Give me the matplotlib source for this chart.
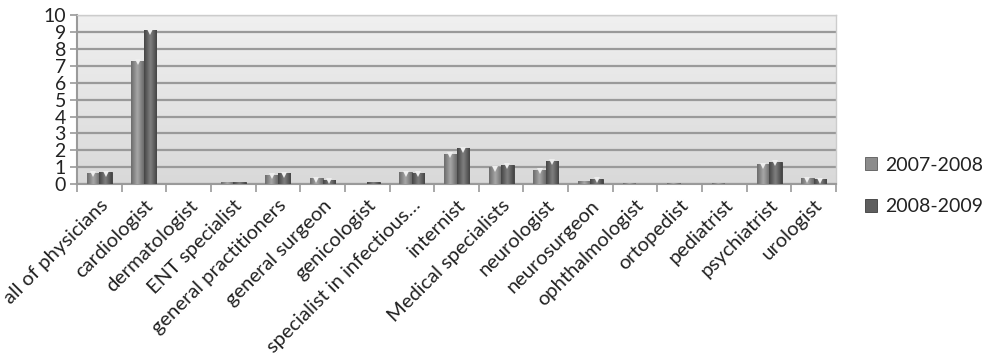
import numpy as np
from matplotlib import pyplot as plt
from matplotlib.colors import LinearSegmentedColormap

categories = ["all of physicians", "cardiologist", "dermatologist", "ENT specialist",
              "general practitioners", "general surgeon", "genicologist",
              "specialist in infectious…", "internist", "Medical specialists",
              "neurologist", "neurosurgeon", "ophthalmologist", "ortopedist",
              "pediatrist", "psychiatrist", "urologist"]
y2007 = [0.65, 7.3, 0.02, 0.10, 0.55, 0.35, 0.03, 0.70, 1.80, 1.00,
         0.85, 0.16, 0.04, 0.08, 0.08, 1.17, 0.35]
y2008 = [0.70, 9.1, 0.02, 0.12, 0.63, 0.26, 0.10, 0.67, 2.12, 1.13,
         1.37, 0.30, 0.02, 0.03, 0.02, 1.30, 0.28]
series_labels = ["2007-2008", "2008-2009"]

plt.rcParams['font.family'] = ['Lato', 'DejaVu Sans']


def shade_bars(ax, bars, dark, light):
    # horizontal gradient inside each bar, like the cylinder look of the original
    cmap = LinearSegmentedColormap.from_list("b", [dark, light, dark])
    grad = np.linspace(0, 1, 64).reshape(1, -1)
    for b in bars:
        x0, y0 = b.get_x(), b.get_y()
        w, h = b.get_width(), b.get_height()
        im = ax.imshow(grad, cmap=cmap, aspect='auto', extent=(x0, x0 + w, y0, y0 + h),
                       zorder=3, interpolation='bicubic')
        im.set_clip_path(b)
        if h > 0.2:
            ax.plot(x0 + w / 2, y0 + h - 0.08, marker='v', color='#eeeeee', markersize=4.5,
                    markeredgewidth=0, zorder=4)


def main():
    fig = plt.figure(figsize=(10, 3.61), dpi=100)
    ax = fig.add_axes([0.077, 0.49, 0.759, 0.468])

    x = np.arange(len(categories))
    w = 0.28
    b1 = ax.bar(x - w / 2, y2007, w, color='#8c8c8c', edgecolor='#5a5a5a', linewidth=0.6,
                zorder=3, label=series_labels[0])
    b2 = ax.bar(x + w / 2, y2008, w, color='#5e5e5e', edgecolor='#3c3c3c', linewidth=0.6,
                zorder=3, label=series_labels[1])
    shade_bars(ax, b1, '#6a6a6a', '#a8a8a8')
    shade_bars(ax, b2, '#444444', '#808080')

    # background gradient of the plot area
    bg = np.linspace(0, 1, 100).reshape(-1, 1)
    bgmap = LinearSegmentedColormap.from_list("bg", ['#f0f0f0', '#d9d9d9'])
    ax.imshow(bg, cmap=bgmap, aspect='auto', extent=(0, 1, 0, 1), transform=ax.transAxes,
              zorder=0)

    ax.set_xlim(-0.5, len(categories) - 0.5)
    ax.set_ylim(0, 10)
    ax.set_yticks(range(0, 11))
    ax.yaxis.grid(True, color='#9a9a9a', linewidth=1.6, zorder=1)
    ax.set_axisbelow(True)

    ax.set_xticks(x)
    ax.set_xticklabels(categories, rotation=45, ha='right', rotation_mode='anchor', fontsize=14.5,
                       color='#222222')
    ax.set_xticks(np.arange(-0.5, len(categories)), minor=True)
    ax.tick_params(axis='x', which='major', length=0, pad=9)
    ax.tick_params(axis='x', which='minor', length=6, color='#9a9a9a', width=1.2)
    ax.tick_params(axis='y', length=5, color='#9a9a9a', width=1.2, labelsize=14,
                   labelcolor='#222222', pad=3)

    for side in ['left', 'bottom']:
        ax.spines[side].set_color('#9a9a9a')
        ax.spines[side].set_linewidth(1.5)
    for side in ['top', 'right']:
        ax.spines[side].set_color('#cccccc')
        ax.spines[side].set_linewidth(1.0)

    fig.legend(handles=[b1, b2], labels=series_labels, loc='center left',
               bbox_to_anchor=(0.847, 0.485), frameon=False, fontsize=14,
               handlelength=0.65, handleheight=0.65, labelspacing=1.25, handletextpad=0.4,
               labelcolor='#222222')

    fig.savefig('out.png', dpi=100)


if __name__ == '__main__':
    main()
